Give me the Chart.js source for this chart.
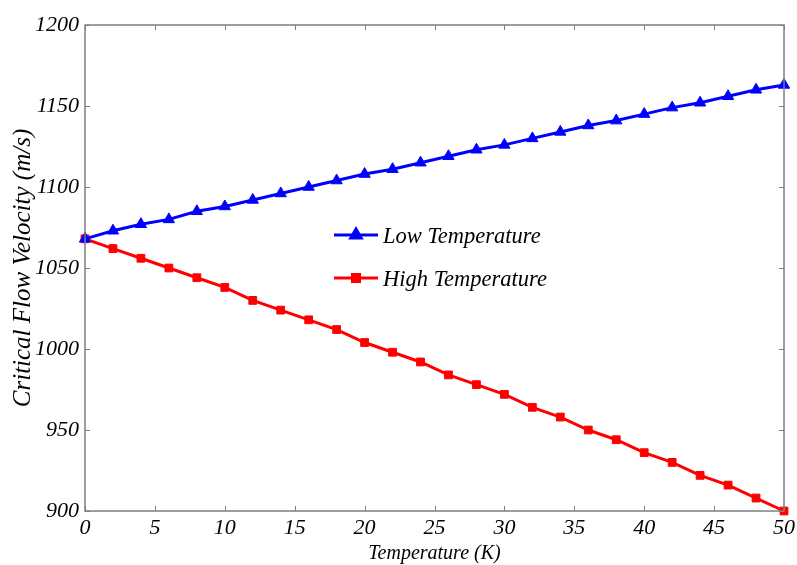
<!DOCTYPE html>
<html>
<head>
<meta charset="utf-8">
<script src="https://cdn.jsdelivr.net/npm/chart.js@4"></script>
<style>
  html, body { margin: 0; padding: 0; background: #fff; }
  #wrap { width: 797px; height: 565px; }
</style>
</head>
<body>
<div id="wrap"><canvas id="chart1"></canvas></div>
<script>
const temps = [0, 2, 4, 6, 8, 10, 12, 14, 16, 18, 20, 22, 24, 26, 28, 30, 32, 34, 36, 38, 40, 42, 44, 46, 48, 50];
const lowTemp = [1068, 1073, 1077, 1080, 1085, 1088, 1092, 1096, 1100, 1104, 1108, 1111, 1115,
  1119, 1123, 1126, 1130, 1134, 1138, 1141, 1145, 1149, 1152, 1156, 1160, 1163];
const highTemp = [1068, 1062, 1056, 1050, 1044, 1038, 1030, 1024, 1018, 1012, 1004, 998, 992,
  984, 978, 972, 964, 958, 950, 944, 936, 930, 922, 916, 908, 900];
const seriesNames = ["Low Temperature", "High Temperature"];
const colorLow = "#0000ff";
const colorHigh = "#ff0000";

const serif = "'Liberation Serif', 'Times New Roman', serif";
const axisGrey = "#7f7f7f";

// ticks pointing into the plot, on all four sides (matlab style box)
const inwardTicks = {
  id: "inwardTicks",
  afterDatasetsDraw(chart) {
    const { ctx, chartArea: a, scales } = chart;
    const len = 5;
    ctx.save();
    ctx.strokeStyle = axisGrey;
    ctx.lineWidth = 1;
    ctx.beginPath();
    scales.x.ticks.forEach((t) => {
      const px = Math.round(scales.x.getPixelForValue(t.value)) + 0.5;
      ctx.moveTo(px, a.bottom); ctx.lineTo(px, a.bottom - len);
      ctx.moveTo(px, a.top); ctx.lineTo(px, a.top + len);
    });
    scales.y.ticks.forEach((t) => {
      const py = Math.round(scales.y.getPixelForValue(t.value)) + 0.5;
      ctx.moveTo(a.left, py); ctx.lineTo(a.left + len, py);
      ctx.moveTo(a.right, py); ctx.lineTo(a.right - len, py);
    });
    ctx.stroke();
    ctx.lineWidth = 1.5;
    ctx.strokeRect(a.left, a.top, a.right - a.left, a.bottom - a.top);
    ctx.restore();
  },
};

// legend sitting inside the axes
const boxLegend = {
  id: "boxLegend",
  afterDraw(chart) {
    const { ctx } = chart;
    const x0 = 334, x1 = 378, tx = 383;
    const rows = [
      { y: 235, color: colorLow, style: "triangle", r: 6 },
      { y: 278, color: colorHigh, style: "rect", r: 5 },
    ];
    ctx.save();
    rows.forEach((row, i) => {
      ctx.strokeStyle = row.color;
      ctx.lineWidth = 3;
      ctx.beginPath();
      ctx.moveTo(x0, row.y); ctx.lineTo(x1, row.y);
      ctx.stroke();
      ctx.fillStyle = row.color;
      Chart.helpers.drawPoint(ctx, { pointStyle: row.style, radius: row.r, borderWidth: 1 }, (x0 + x1) / 2, row.y);
      ctx.fill();
      ctx.fillStyle = "#000";
      ctx.font = "italic 22.5px " + serif;
      ctx.textBaseline = "middle";
      ctx.fillText(seriesNames[i], tx, row.y + 2);
    });
    ctx.restore();
  },
};

const ctx = document.getElementById("chart1");

const chart = new Chart(ctx, {
  type: "line",
  data: {
    labels: temps,
    datasets: [
      {
        label: seriesNames[0],
        data: lowTemp,
        borderColor: colorLow,
        backgroundColor: colorLow,
        borderWidth: 3,
        pointStyle: "triangle",
        pointRadius: 6.5,
        pointBorderWidth: 1,
        clip: false,
      },
      {
        label: seriesNames[1],
        data: highTemp,
        borderColor: colorHigh,
        backgroundColor: colorHigh,
        borderWidth: 3,
        pointStyle: "rect",
        pointRadius: 5.5,
        pointBorderWidth: 1,
        clip: false,
      },
    ],
  },
  options: {
    responsive: true,
    maintainAspectRatio: false,
    animation: false,
    layout: { padding: { top: 25, right: 13, left: 0, bottom: 0 } },
    scales: {
      x: {
        type: "linear",
        min: 0,
        max: 50,
        ticks: {
          stepSize: 5,
          padding: 6,
          color: "#000",
          font: { family: serif, style: "italic", size: 22, lineHeight: 1 },
        },
        grid: { display: false, drawTicks: false },
        border: { display: false },
        title: {
          display: true,
          text: "Temperature (K)",
          color: "#000",
          padding: { top: 0, bottom: -1 },
          font: { family: serif, style: "italic", size: 20, lineHeight: 1.2 },
        },
        afterFit: (scale) => {
          scale.height = 54;
          scale.paddingLeft = 0;
          scale.paddingRight = 0;
        },
      },
      y: {
        min: 900,
        max: 1200,
        ticks: {
          stepSize: 50,
          padding: 6,
          color: "#000",
          font: { family: serif, style: "italic", size: 22 },
          callback: (v) => String(v),
        },
        grid: { display: false, drawTicks: false },
        border: { display: false },
        title: {
          display: true,
          text: "Critical Flow Velocity (m/s)",
          color: "#000",
          padding: { top: 8, bottom: 0 },
          font: { family: serif, style: "italic", size: 25, lineHeight: 1.2 },
        },
        afterFit: (scale) => {
          scale.width = 85;
          scale.paddingTop = 0;
          scale.paddingBottom = 0;
        },
      },
    },
    plugins: {
      legend: { display: false },
      tooltip: { enabled: false },
    },
  },
  plugins: [inwardTicks, boxLegend],
});
</script>
</body>
</html>
